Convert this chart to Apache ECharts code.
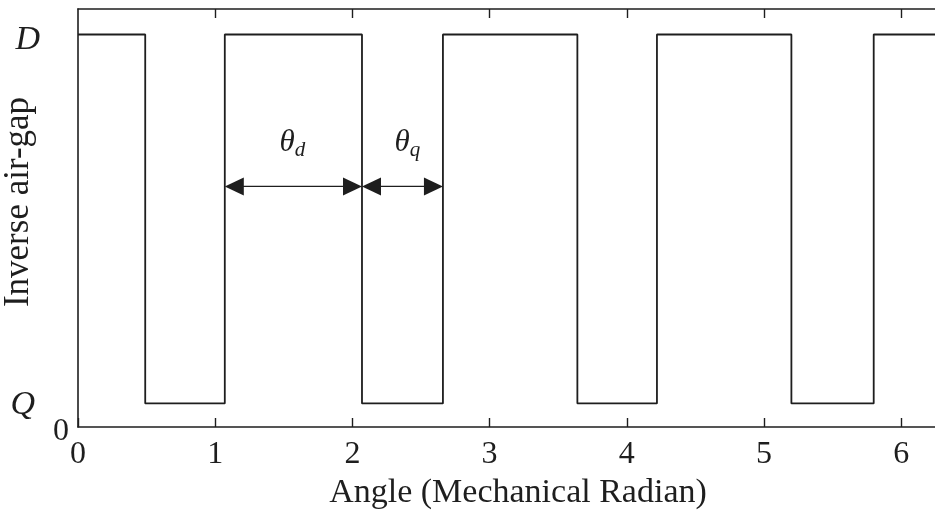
<!DOCTYPE html>
<html>
<head>
<meta charset="utf-8">
<script src="https://cdn.jsdelivr.net/npm/echarts@6/dist/echarts.min.js"></script>
<style>
  html, body { margin: 0; padding: 0; background: #ffffff; }
  #chart { width: 935px; height: 514px; }
</style>
</head>
<body>
<div id="chart"></div>
<script>
// Inverse air-gap levels (normalised)
const levelD = 1.0;
const levelQ = 0.06;
const yMax = 1.065;

// Switching angles of the square wave (mechanical radians)
const angle = [0, 0.49, 0.49, 1.07, 1.07, 2.07, 2.07, 2.66, 2.66, 3.64, 3.64, 4.22, 4.22, 5.20, 5.20, 5.80, 5.80, 6.2832];
const level = ['D', 'D', 'Q', 'Q', 'D', 'D', 'Q', 'Q', 'D', 'D', 'Q', 'Q', 'D', 'D', 'Q', 'Q', 'D', 'D'];

// Tick labels
const xTicks = [0, 1, 2, 3, 4, 5, 6];
const yTicks = [0, levelQ, levelD];

// Dimension arrows: [start angle, end angle, height, label subscript]
const spanStart = [1.07, 2.07];
const spanEnd = [2.07, 2.66];
const spanHeight = [0.613, 0.613];
const spanName = ['d', 'q'];

const ink = '#1e1e1e';
const serif = '"Liberation Serif", "Times New Roman", serif';

const levelValue = { D: levelD, Q: levelQ };
const wave = angle.map((a, i) => [a, levelValue[level[i]]]);
const spans = spanStart.map((s, i) => [s, spanEnd[i], spanHeight[i], spanName[i]]);

const chart = echarts.init(document.getElementById('chart'), null, { renderer: 'canvas' });

function renderSpan(params, api) {
  const x1 = api.value(0), x2 = api.value(1), y = api.value(2);
  const p1 = api.coord([x1, y]);
  const p2 = api.coord([x2, y]);
  const len = 19, half = 9;
  const sub = spans[params.dataIndex][3];
  return {
    type: 'group',
    children: [
      { type: 'line', shape: { x1: p1[0] + len - 2, y1: p1[1], x2: p2[0] - len + 2, y2: p2[1] },
        style: { stroke: ink, lineWidth: 1.3 } },
      { type: 'polygon', shape: { points: [[p1[0], p1[1]], [p1[0] + len, p1[1] - half], [p1[0] + len, p1[1] + half]] },
        style: { fill: ink } },
      { type: 'polygon', shape: { points: [[p2[0], p2[1]], [p2[0] - len, p2[1] - half], [p2[0] - len, p2[1] + half]] },
        style: { fill: ink } },
      { type: 'text', x: (p1[0] + p2[0]) / 2 + (sub === 'q' ? 5 : -1), y: p1[1] - 44,
        style: {
          text: '{t|θ}{s|' + sub + '}',
          align: 'center', verticalAlign: 'middle',
          rich: {
            t: { fontFamily: serif, fontStyle: 'italic', fontSize: 31, fill: ink },
            s: { fontFamily: serif, fontStyle: 'italic', fontSize: 21, fill: ink, padding: [16, 0, 0, 0] }
          }
        } }
    ]
  };
}

chart.setOption({
  animation: false,
  backgroundColor: '#ffffff',
  grid: { left: 78, top: 9, bottom: 87, right: -5, outerBoundsMode: 'none', containLabel: false },
  xAxis: [
    {
      type: 'value', min: 0, max: 6.2832, position: 'bottom',
      name: 'Angle (Mechanical Radian)', nameLocation: 'middle', nameGap: 49, nameMoveOverlap: false,
      nameTextStyle: { fontFamily: serif, fontSize: 34, color: ink, padding: [0, 0, 0, 18] },
      axisLine: { show: true, lineStyle: { color: ink, width: 1.6 } },
      axisTick: { show: true, inside: true, length: 9, customValues: xTicks, lineStyle: { color: ink, width: 1.4 } },
      axisLabel: { customValues: xTicks, margin: 12, fontFamily: serif, fontSize: 32, color: ink },
      splitLine: { show: false }
    },
    {
      type: 'value', min: 0, max: 6.2832, position: 'top',
      axisLine: { show: true, onZero: false, lineStyle: { color: ink, width: 1.6 } },
      axisTick: { show: true, inside: true, length: 9, customValues: xTicks.slice(1), lineStyle: { color: ink, width: 1.4 } },
      axisLabel: { show: false },
      splitLine: { show: false }
    }
  ],
  yAxis: {
    type: 'value', min: 0, max: yMax,
    name: 'Inverse air-gap', nameLocation: 'middle', nameGap: 42, nameMoveOverlap: false,
    nameTextStyle: { fontFamily: serif, fontSize: 35, color: ink, padding: [0, 0, 0, 32] },
    axisLine: { show: true, lineStyle: { color: ink, width: 1.6 } },
    axisTick: { show: false },
    splitLine: { show: false },
    axisLabel: {
      customValues: yTicks, margin: 9,
      formatter: function (v) {
        if (v === levelD) return '{d|D}';
        if (v === levelQ) return '{q|Q}';
        return '{z|0}';
      },
      rich: {
        d: { fontFamily: serif, fontStyle: 'italic', fontSize: 34, color: ink, padding: [12, 29, 0, 0] },
        q: { fontFamily: serif, fontStyle: 'italic', fontSize: 34, color: ink, padding: [4, 34, 0, 0] },
        z: { fontFamily: serif, fontSize: 32, color: ink, padding: [10, 0, 0, 0] }
      }
    }
  },
  series: [
    {
      type: 'line', data: wave, xAxisIndex: 0, symbol: 'none',
      lineStyle: { color: ink, width: 1.8 }, clip: true
    },
    {
      type: 'custom', xAxisIndex: 0, data: spans,
      renderItem: renderSpan, clip: false
    }
  ]
});
</script>
</body>
</html>
